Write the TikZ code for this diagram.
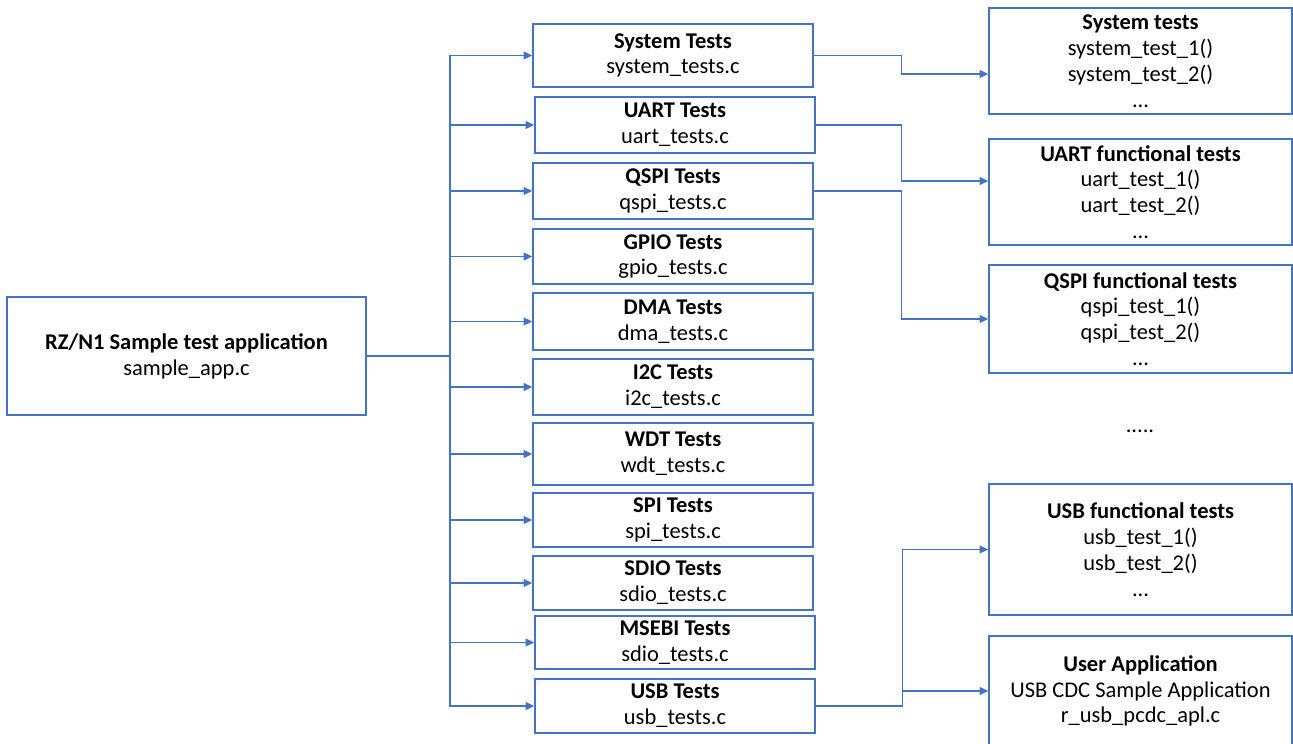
\documentclass[tikz,border=0pt]{standalone}
\usepackage{fontspec}
\setmainfont{Carlito}
\usetikzlibrary{arrows.meta}
\definecolor{linkblue}{HTML}{4472C4}

\begin{document}
\begin{tikzpicture}[x=0.02cm, y=-0.02cm,
    box/.style={draw=linkblue, line width=0.8pt, align=center, inner sep=0pt,
      font=\fontsize{12.8}{14.7}\selectfont},
    midbox/.style={box, minimum width=5.6cm},
    fnbox/.style={box, minimum width=6.06cm},
    link/.style={draw=linkblue, line width=0.8pt, -{Triangle[length=5pt, width=4.5pt]}}]
    \useasboundingbox (0,0) rectangle (1293,743);

    % application
    \node [box, minimum width=7.18cm, minimum height=2.36cm] (app) at (186.5,356)
        {\textbf{RZ/N1 Sample test application}\\sample\_app.c};
    \coordinate (trunk) at (450,356);
    \draw [draw=linkblue, line width=0.8pt] (app.east) -- (trunk);

    % test modules
    \node [midbox, minimum height=1.26cm] (sys) at (673,55.5) {\textbf{System Tests}\\system\_tests.c};
    \node [midbox, minimum height=1.12cm] (uart) at (675,125) {\textbf{UART Tests}\\uart\_tests.c};
    \node [midbox, minimum height=1.12cm] (qspi) at (673,191) {\textbf{QSPI Tests}\\qspi\_tests.c};
    \node [midbox, minimum height=1.10cm] (gpio) at (673,256.5) {\textbf{GPIO Tests}\\gpio\_tests.c};
    \node [midbox, minimum height=1.14cm] (dma) at (673,321.5) {\textbf{DMA Tests}\\dma\_tests.c};
    \node [midbox, minimum height=1.12cm] (i2c) at (673,387) {\textbf{I2C Tests}\\i2c\_tests.c};
    \node [midbox, minimum height=1.24cm] (wdt) at (673,454) {\textbf{WDT Tests}\\wdt\_tests.c};
    \node [midbox, minimum height=1.08cm] (spi) at (673,520) {\textbf{SPI Tests}\\spi\_tests.c};
    \node [midbox, minimum height=1.08cm] (sdio) at (673,583) {\textbf{SDIO Tests}\\sdio\_tests.c};
    \node [midbox, minimum height=1.06cm] (msebi) at (675,642.5) {\textbf{MSEBI Tests}\\sdio\_tests.c};
    \node [midbox, minimum height=1.08cm] (usb) at (675,706) {\textbf{USB Tests}\\usb\_tests.c};

    \draw [link] (trunk) |- (sys.west);
    \draw [link] (trunk) |- (uart.west);
    \draw [link] (trunk) |- (qspi.west);
    \draw [link] (trunk) |- (gpio.west);
    \draw [link] (trunk) |- (dma.west);
    \draw [link] (trunk) |- (i2c.west);
    \draw [link] (trunk) |- (wdt.west);
    \draw [link] (trunk) |- (spi.west);
    \draw [link] (trunk) |- (sdio.west);
    \draw [link] (trunk) |- (msebi.west);
    \draw [link] (trunk) |- (usb.west);

    % functional tests
    \node [fnbox, minimum height=2.12cm] (systest) at (1140.5,61)
        {\textbf{System tests}\\system\_test\_1()\\system\_test\_2()\\...};
    \node [fnbox, minimum height=2.12cm] (uartfn) at (1140.5,192)
        {\textbf{UART functional tests}\\uart\_test\_1()\\uart\_test\_2()\\...};
    \node [fnbox, minimum height=2.16cm] (qspifn) at (1140.5,319)
        {\textbf{QSPI functional tests}\\qspi\_test\_1()\\qspi\_test\_2()\\...};
    \node [anchor=base, font=\fontsize{12.8}{14.7}\selectfont] (more) at (1140,432) {.....};
    \node [fnbox, minimum height=2.62cm] (usbfn) at (1140.5,549.5)
        {\textbf{USB functional tests}\\usb\_test\_1()\\usb\_test\_2()\\...};
    \node [fnbox, minimum height=2.2cm] (userapp) at (1140.5,691)
        {\textbf{User Application}\\USB CDC Sample Application\\r\_usb\_pcdc\_apl.c};

    \draw [link] (sys.east) -- ++(88,0) |- ([yshift=-0.26cm]systest.west);
    \draw [link] (uart.east) -- ++(86,0) |- ([yshift=0.22cm]uartfn.west);
    \draw [link] (qspi.east) -- ++(88,0) |- (qspifn.west);
    \draw [link] (usb.east) -- ++(87,0) |- (usbfn.west);
    \draw [link] (usb.east) -- ++(87,0) |- (userapp.west);
\end{tikzpicture}
\end{document}
